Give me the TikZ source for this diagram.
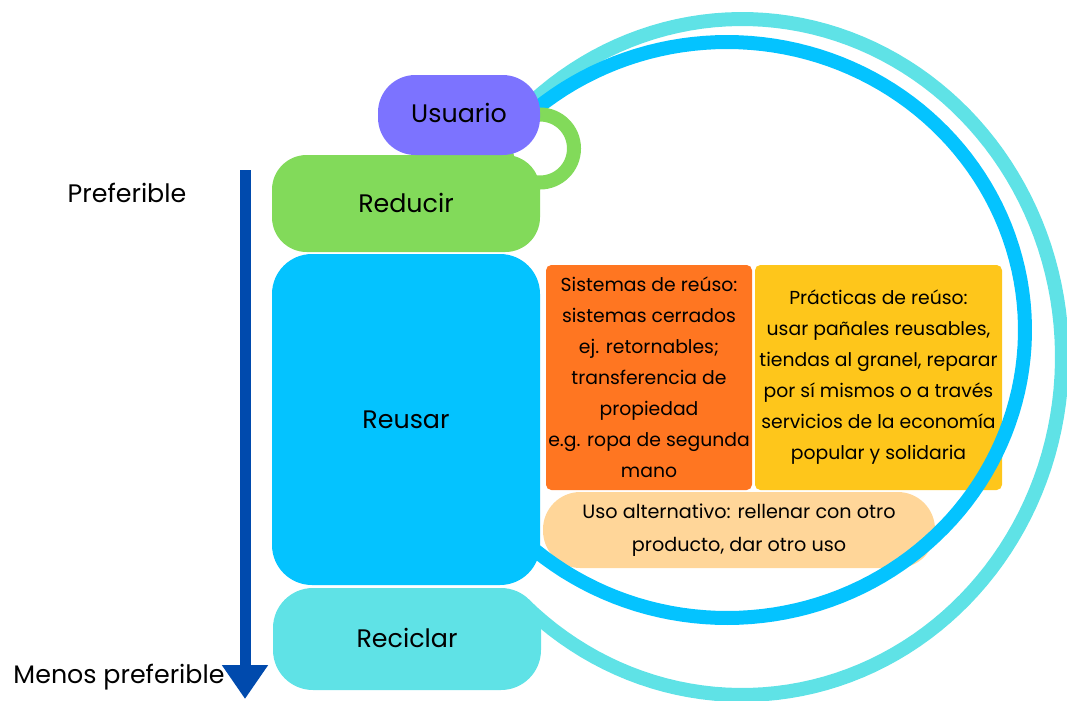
\documentclass[tikz,border=0pt]{standalone}
\usepackage{fontspec}
\setmainfont{Poppins}
\usetikzlibrary{arrows.meta}
\definecolor{cpurple}{RGB}{124,115,255}
\definecolor{cgreen}{RGB}{130,218,90}
\definecolor{cblue}{RGB}{4,195,255}
\definecolor{ccyan}{RGB}{95,226,230}
\definecolor{corange}{RGB}{255,118,33}
\definecolor{cyellow}{RGB}{254,198,27}
\definecolor{cpeach}{RGB}{255,214,153}
\definecolor{carrow}{RGB}{0,74,173}
\tikzset{
  stack/.style={rectangle, inner sep=0pt, minimum width=201pt},
  lbl/.style={inner sep=0pt, anchor=base, font=\fontsize{19}{23}\selectfont},
  info/.style={rectangle, inner sep=0pt, align=center, rounded corners=4pt, font=\fontsize{14.1}{23.25}\selectfont},
  ringline/.style={line width=10.5pt},
}
\begin{document}
\begin{tikzpicture}[x=0.75pt,y=-0.75pt]
\useasboundingbox (0,0) rectangle (1067,700);

% info boxes
\node[info, fill=corange, minimum width=154.5pt, minimum height=168.75pt] (sis) at (649,377.5)
  {Sistemas de reúso:\\sistemas cerrados\\ej. retornables;\\transferencia de\\propiedad\\e.g. ropa de segunda\\mano};
\node[info, fill=cyellow, minimum width=185.25pt, minimum height=168.75pt] (pra) at (878.5,377.5)
  {Prácticas de reúso:\\usar pañales reusables,\\tiendas al granel, reparar\\por sí mismos o a través\\servicios de la economía\\popular y solidaria};
\node[info, fill=cpeach, rounded corners=28pt, minimum width=294pt, minimum height=57pt,
  font=\fontsize{14.4}{24.75}\selectfont] (alt) at (739,530)
  {Uso alternativo: rellenar con otro\\producto, dar otro uso};

% rings
\draw[ringline, ccyan] plot[domain=-133:133, samples=120] ({742+320*cos(\x)}, {357-338*sin(\x)});
\draw[ringline, cblue] plot[domain=-132:132, samples=120] ({727+298*cos(\x)}, {330-288*sin(\x)});
\draw[ringline, cgreen] (540,148.5) circle[radius=34];

% stack
\node[stack, fill=ccyan, rounded corners=30pt, minimum height=76.5pt] (rec) at (407,639) {};
\node[stack, fill=cblue, rounded corners=30pt, minimum height=248.25pt] (reu) at (406,419.5) {};
\node[stack, fill=cgreen, rounded corners=26pt, minimum height=72.75pt] (red) at (406,203.5) {};
\node[rectangle, inner sep=0pt, fill=cpurple, rounded corners=28pt, minimum width=121.5pt, minimum height=60pt] (usu) at (459,115) {};

\node[lbl] (tusu) at (459,122) {Usuario};
\node[lbl] (tred) at (406,212) {Reducir};
\node[lbl] (treu) at (406,428) {Reusar};
\node[lbl] (trec) at (407,647) {Reciclar};

% arrow
\coordinate (atop) at (245,170);
\coordinate (abot) at (245,699);
\draw[line width=8.25pt, carrow, -{Triangle[width=33pt,length=25.5pt]}] (atop) -- (abot);
\node[lbl] (pref) at (127,202) {Preferible};
\node[lbl] (menos) at (119,683) {Menos preferible};
\end{tikzpicture}
\end{document}
